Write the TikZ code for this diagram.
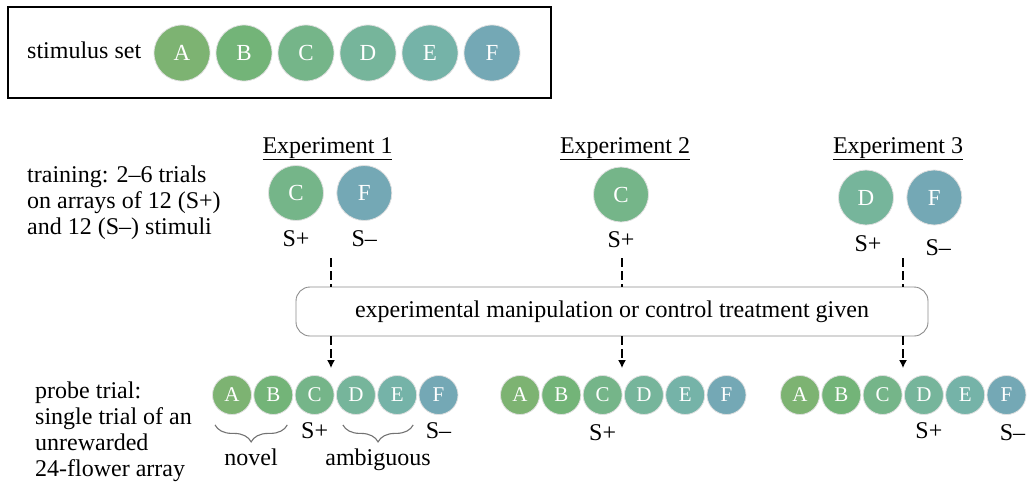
\documentclass[tikz,border=0pt]{standalone}
\usepackage{fontspec}
\setmainfont{Liberation Serif}
\usepackage{tikz}
\usetikzlibrary{shapes,arrows.meta,positioning,decorations.pathreplacing}

\definecolor{cA}{RGB}{125,179,114}
\definecolor{cB}{RGB}{115,180,120}
\definecolor{cC}{RGB}{117,181,137}
\definecolor{cD}{RGB}{118,181,155}
\definecolor{cE}{RGB}{117,179,168}
\definecolor{cF}{RGB}{116,168,181}

\begin{document}
\begin{tikzpicture}[x=1pt, y=-1pt,
    big/.style={circle, draw=black!12, line width=0.8pt, minimum size=55pt, inner sep=0pt, text=white, font=\fontsize{23}{23}\selectfont},
    small/.style={big, minimum size=39pt, font=\fontsize{21}{21}\selectfont},
    txt/.style={inner sep=0pt, font=\fontsize{24}{26}\selectfont},
    lead/.style={line width=2.8pt, dash pattern=on 9pt off 4pt},
    arrow/.style={lead, -{Latex[length=8pt,width=8pt]}, shorten >=7pt},
    bracket/.style={draw=black!55, line width=1.1pt, decorate, decoration={brace, mirror, amplitude=17pt}}]

    \useasboundingbox (0,0) rectangle (1027,482);

    % Conjunto de estimulos
    \draw[line width=1.3pt] (8,7) rectangle (551,98);
    \node[txt, anchor=base west] (setlabel) at (27,58) {stimulus set};
    \foreach \l [count=\i] in {A,B,C,D,E,F}
        \node[big, minimum size=56pt, fill=c\l] (s\l) at ({182+62*(\i-1)},53) {\l};

    % Entrenamiento
    \node[txt, anchor=north west, align=left] (training) at (27,165.5) {training: 2–6 trials\\on arrays of 12 (S+)\\and 12 (S–) stimuli};
    \node[txt, anchor=base] (exp1) at (327.5,153) {\underline{Experiment 1}};
    \node[txt, anchor=base] (exp2) at (625,153) {\underline{Experiment 2}};
    \node[txt, anchor=base] (exp3) at (898,153) {\underline{Experiment 3}};

    \node[big, fill=cC] (c1) at (296,193) {C};
    \node[big, fill=cF, right=12.5pt of c1] (f1) {F};
    \node[big, fill=cC] (c2) at (621,194.5) {C};
    \node[big, fill=cD] (d3) at (866,197.5) {D};
    \node[big, fill=cF, right=12.5pt of d3] (f3) {F};

    \node[txt, below=10pt of c1] (sp1) {S+};
    \node[txt, below=10pt of f1] (sm1) {S–};
    \node[txt, below=9pt of c2] (sp2) {S+};
    \node[txt, below=10pt of d3, xshift=2pt] (sp3) {S+};
    \node[txt, below=14pt of f3, xshift=4pt] (sm3) {S–};

    % Tratamiento
    \node[txt, draw=black!45, line width=0.9pt, rounded corners=14pt, minimum width=632pt, minimum height=49pt] (treat) at (612,311.5) {experimental manipulation or control treatment given};

    % Prueba
    \node[txt, anchor=north west, align=left] (probe) at (35,381.5) {probe trial:\\single trial of an\\unrewarded\\24-flower array};
    \foreach \row/\x in {p/232, q/520, r/800}
        \foreach \l [count=\i] in {A,B,C,D,E,F}
            \node[small, fill=c\l] (\row\l) at ({\x+41.3*(\i-1)},395) {\l};

    \node[txt, below=8pt of pC] (pplus) {S+};
    \node[txt, below=8pt of pF] (pminus) {S–};
    \node[txt, below=10pt of qC] (qplus) {S+};
    \node[txt, below=8pt of rD, xshift=5pt] (rplus) {S+};
    \node[txt, below=10pt of rF, xshift=6pt] (rminus) {S–};

    \draw[bracket] ([xshift=-17pt,yshift=-10pt]pA.south) -- ([xshift=14pt,yshift=-10pt]pB.south)
        node[txt, midway, below=23pt] (novel) {novel};
    \draw[bracket] ([xshift=-13pt,yshift=-10pt]pD.south) -- ([xshift=16pt,yshift=-10pt]pE.south)
        node[txt, midway, below=23pt] (ambig) {ambiguous};

    % Flechas
    \coordinate (t1) at (331,258);
    \coordinate (t2) at (622,258);
    \coordinate (t3) at (903,258);
    \foreach \t/\r in {t1/pC, t2/qC, t3/rC} {
        \draw[lead] (\t) -- (\t |- treat.north);
        \draw[arrow] (\t |- treat.south) -- (\t |- \r.north);
    }

\end{tikzpicture}
\end{document}
